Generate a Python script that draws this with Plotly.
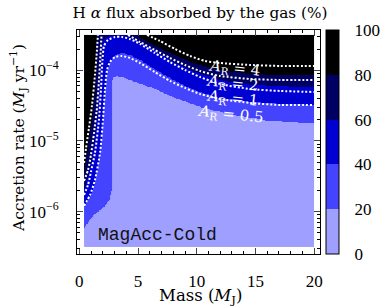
import numpy as np
import plotly.graph_objects as go

# ---------------- data ----------------
# Boundaries (log10 accretion rate) above which absorbed fraction exceeds a threshold
b20_mass = [0.40, 1.16, 1.76, 2.27, 2.61, 2.74, 2.78, 2.82, 2.87, 3.21, 3.89, 5.17, 6.28, 7.72, 10.53, 13.68, 16.24, 20.0]
b20_lg = [-6.231, -6.061, -5.976, -5.905, -5.82, -5.693, -5.127, -4.137, -4.095, -4.081, -4.109, -4.194, -4.25, -4.363, -4.533, -4.646, -4.717, -4.745]

b40_mass = [0.40, 0.91, 1.33, 1.76, 2.01, 2.18, 2.36, 2.61, 3.04, 3.63, 4.31, 5.17, 6.42, 7.72, 9.00, 10.28, 11.98, 14.54, 20.0]
b40_lg = [-5.934, -5.792, -5.594, -5.198, -4.703, -4.307, -4.024, -3.883, -3.784, -3.755, -3.784, -3.854, -3.982, -4.109, -4.222, -4.307, -4.392, -4.448, -4.491]

b60_mass = [0.40, 0.74, 1.16, 1.50, 1.67, 1.84, 2.01, 2.61, 3.89, 4.74, 6.02, 7.72, 9.68, 11.98, 14.54, 20.0]
b60_lg = [-5.693, -5.509, -5.170, -4.703, -4.279, -3.854, -3.571, -3.515, -3.515, -3.571, -3.67, -3.854, -4.01, -4.137, -4.208, -4.236]

b80_mass = [0.40, 0.65, 1.08, 1.33, 1.50, 1.60, 4.80, 4.91, 6.02, 7.72, 9.68, 11.98, 14.54, 20.0]
b80_lg = [-5.481, -5.170, -4.703, -4.279, -3.515, -3.2, -3.2, -3.515, -3.614, -3.755, -3.897, -3.996, -4.052, -4.066]

thresholds = [20, 40, 60, 80]
band_colors = ["#9f9fff", "#4444ff", "#0000d2", "#000064", "#000000"]

# A_R contours (mass, log10 accretion rate); None splits segments
ar4_mass = [0.40, 0.57, 0.82, 1.08, 1.33, 1.50, 1.58, None, 5.76, 6.87, 8.15, 9.43, 10.70, 11.98, 14.54, 17.09, 20.0]
ar4_lg = [-5.311, -5.099, -4.816, -4.491, -4.066, -3.713, -3.50, None, -3.50, -3.586, -3.699, -3.798, -3.868, -3.897, -3.925, -3.939, -3.939]
ar2_mass = [0.40, 0.74, 0.99, 1.25, 1.50, 1.67, 1.80, 1.89, None, 4.14, 5.17, 6.42, 7.72, 9.00, 10.28, 11.98, 14.54, 17.09, 20.0]
ar2_lg = [-5.566, -5.41, -5.198, -4.887, -4.533, -4.137, -3.784, -3.50, None, -3.50, -3.60, -3.713, -3.826, -3.925, -4.010, -4.081, -4.123, -4.137, -4.137]
ar1_mass = [0.40, 0.74, 0.99, 1.33, 1.67, 1.84, 1.97, 2.10, 2.44, 3.04, 3.63, 4.31, 5.17, 6.42, 7.72, 9.00, 10.28, 11.98, 14.54, 17.09, 20.0]
ar1_lg = [-5.764, -5.622, -5.438, -5.170, -4.703, -4.279, -3.854, -3.656, -3.571, -3.529, -3.529, -3.557, -3.628, -3.755, -3.883, -3.996, -4.095, -4.194, -4.265, -4.293, -4.307]
ar05_mass = [0.40, 0.91, 1.33, 1.76, 2.01, 2.18, 2.36, 2.61, 3.04, 3.63, 4.31, 5.17, 6.42, 7.72, 9.00, 10.28, 11.98, 14.54, 17.09, 20.0]
ar05_lg = [-5.919, -5.764, -5.552, -5.170, -4.703, -4.279, -3.996, -3.883, -3.812, -3.798, -3.826, -3.897, -4.024, -4.151, -4.25, -4.335, -4.406, -4.463, -4.491, -4.491]

ar_labels = ["<i>A</i><sub>R</sub> = 4", "<i>A</i><sub>R</sub> = 2", "<i>A</i><sub>R</sub> = 1", "<i>A</i><sub>R</sub> = 0.5"]
ar_label_mass = [13.2, 13.0, 13.0, 12.85]
ar_label_lg = [-3.98, -4.18, -4.40, -4.62]

cbar_ticks = [0, 20, 40, 60, 80, 100]

# ---------------- build grid ----------------
mass_edges = np.linspace(0.4, 20.0, 393)
lg_edges = np.linspace(-6.5, -3.5, 301)
mc = 0.5 * (mass_edges[1:] + mass_edges[:-1])
lc = 0.5 * (lg_edges[1:] + lg_edges[:-1])
z = np.full((len(lc), len(mc)), 10.0)
for T, bm, bl in zip(thresholds, [b20_mass, b40_mass, b60_mass, b80_mass],
                     [b20_lg, b40_lg, b60_lg, b80_lg]):
    b = np.interp(mc, bm, bl)
    z[lc[:, None] >= b[None, :]] = T + 10

cs = []
for i, c in enumerate(band_colors):
    cs.append([i / 5, c])
    cs.append([(i + 1) / 5, c])

serif = "DejaVu Serif"
numfont = "Liberation Serif"
W, H = 391, 307
L, R, T, B = 77, 320, 30, 254
PW, PH = R - L, B - T

fig = go.Figure()
fig.add_trace(go.Heatmap(
    x=mass_edges, y=10 ** lg_edges, z=z, zmin=0, zmax=100, colorscale=cs,
    zsmooth=False, hoverinfo="skip",
    colorbar=dict(
        thickness=13, thicknessmode="pixels", len=1, lenmode="fraction",
        x=(326 - L) / PW, xref="paper", xanchor="left", xpad=0,
        y=0.5, yref="paper", yanchor="middle", ypad=0,
        outlinewidth=1, outlinecolor="black",
        tickvals=cbar_ticks, ticks="outside", ticklen=12, tickwidth=1, tickcolor="white",
        tickfont=dict(family=numfont, size=17, color="black"),
    ),
))

def to_y(lgs):
    return [None if v is None else 10 ** v for v in lgs]

for xs, ys in [(ar4_mass, ar4_lg), (ar2_mass, ar2_lg), (ar1_mass, ar1_lg), (ar05_mass, ar05_lg)]:
    fig.add_trace(go.Scatter(x=xs, y=to_y(ys), mode="lines", connectgaps=False,
                             line=dict(color="white", width=2, dash="2px,2px", shape="spline", smoothing=0.6),
                             hoverinfo="skip", showlegend=False))

for txt, xm, yl in zip(ar_labels, ar_label_mass, ar_label_lg):
    fig.add_annotation(x=xm, y=yl, text=txt, showarrow=False, textangle=6,
                       font=dict(family=serif, size=15, color="white"))

fig.add_annotation(x=1.45, y=-6.33, text="MagAcc-Cold", showarrow=False, xanchor="left",
                   font=dict(family="Liberation Mono", size=18, color="#111111"))

# separators inside the colourbar
for v in [20, 40, 60, 80]:
    fig.add_shape(type="line", xref="paper", yref="paper",
                  x0=(326 - L) / PW, x1=(339 - L) / PW, y0=v / 100, y1=v / 100,
                  line=dict(color="black", width=1))

minor_y = [k * 10 ** e for e in range(-7, -2) for k in range(2, 10)]
fig.update_layout(
    width=W, height=H, margin=dict(l=L, r=W - R, t=T, b=H - B, autoexpand=False),
    paper_bgcolor="white", plot_bgcolor="white", showlegend=False,
    title=dict(text="H <i>α</i> flux absorbed by the gas (%)", x=200 / W, xanchor="center",
               y=1 - 13 / H, yanchor="middle", font=dict(family=serif, size=15.3, color="black")),
    xaxis=dict(range=[-0.2, 20.5], tickvals=[0, 5, 10, 15, 20], ticks="inside", ticklen=6,
               mirror="allticks", showline=True, linecolor="black", linewidth=1,
               showgrid=False, zeroline=False, ticklabelstandoff=12,
               tickfont=dict(family=numfont, size=17, color="black"),
               minor=dict(dtick=1, ticks="inside", ticklen=3, tickcolor="black", showgrid=False),
               title=None),
    yaxis=dict(type="log", range=[-6.6, -3.43], tickvals=[1e-6, 1e-5, 1e-4],
               ticktext=["10<sup>−6</sup>", "10<sup>−5</sup>", "10<sup>−4</sup>"],
               ticks="inside", ticklen=6, mirror="allticks", showline=True, linecolor="black",
               linewidth=1, showgrid=False, zeroline=False, ticklabelstandoff=14,
               tickfont=dict(family=numfont, size=17, color="black"),
               minor=dict(tickvals=minor_y, ticks="inside", ticklen=3, tickcolor="black", showgrid=False),
               title=None),
    font=dict(family=serif, size=16, color="black"),
)

fig.add_annotation(xref="paper", yref="paper", x=(200 - L) / PW, y=(B - 296.5) / PH,
                   xanchor="center", yanchor="middle",
                   text="Mass (<i>M</i><sub>J</sub>)", showarrow=False,
                   font=dict(family=serif, size=16.5, color="black"))
fig.add_annotation(xref="paper", yref="paper", x=(18 - L) / PW, y=(B - 138) / PH,
                   xanchor="center", yanchor="middle",
                   text="Accretion rate (<i>M</i><sub>J</sub> yr<sup>−1</sup>)", showarrow=False,
                   textangle=-90, font=dict(family=serif, size=15.5, color="black"))

fig.write_html("out.html", config={"displayModeBar": False},
               post_script="document.body.style.margin='0';")
